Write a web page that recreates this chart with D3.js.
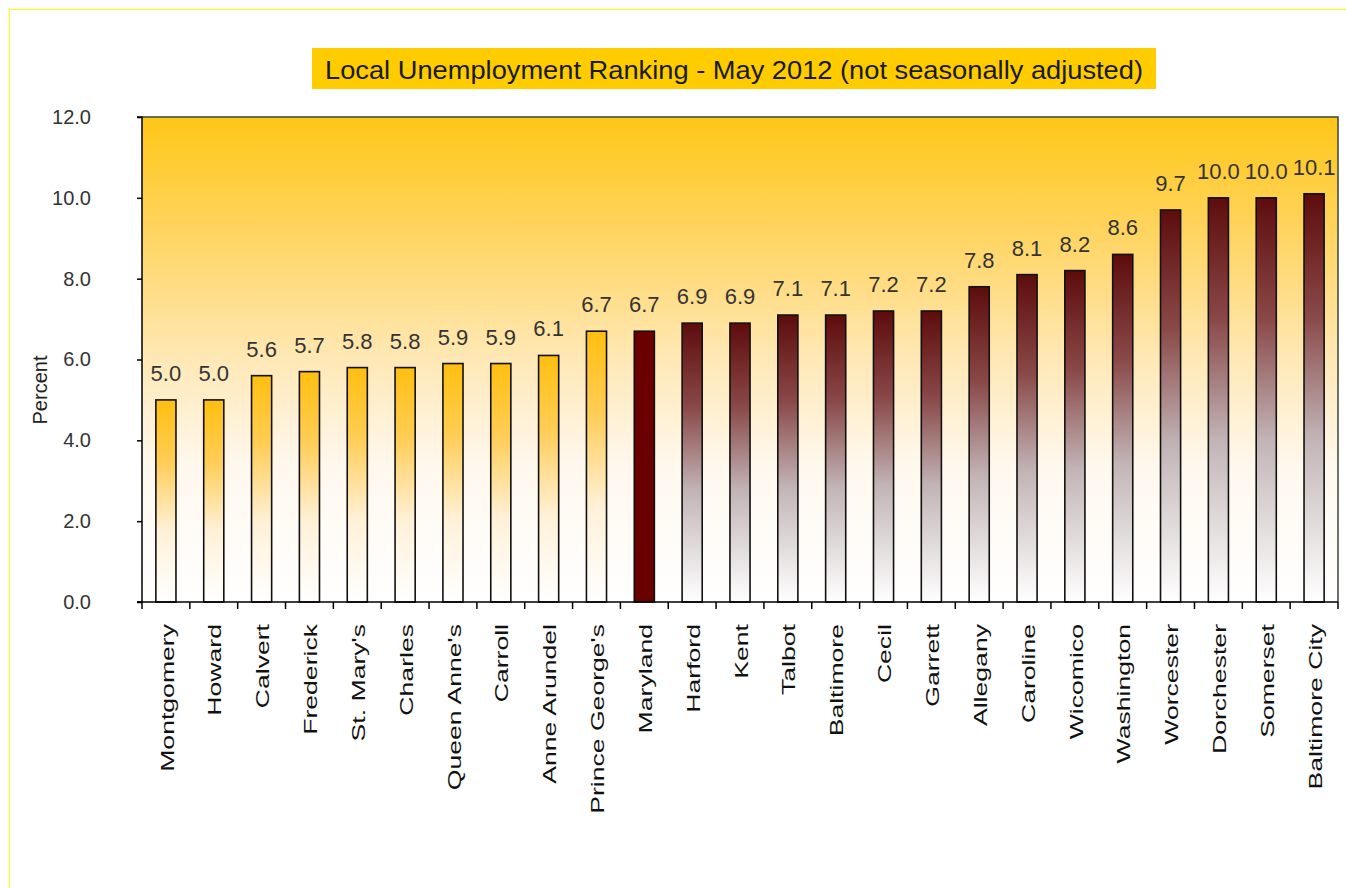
<!DOCTYPE html>
<html><head><meta charset="utf-8">
<script src="https://cdn.jsdelivr.net/npm/d3@7"></script>
<style>body{margin:0;background:#fff;}svg{display:block;font-family:"Liberation Sans",Arial,sans-serif;}</style>
</head><body>
<svg id="chart" width="1346" height="888"></svg>
<script>
const categories = ["Montgomery","Howard","Calvert","Frederick","St. Mary's","Charles","Queen Anne's","Carroll","Anne Arundel","Prince George's","Maryland","Harford","Kent","Talbot","Baltimore","Cecil","Garrett","Allegany","Caroline","Wicomico","Washington","Worcester","Dorchester","Somerset","Baltimore City"];
const values = [5.0,5.0,5.6,5.7,5.8,5.8,5.9,5.9,6.1,6.7,6.7,6.9,6.9,7.1,7.1,7.2,7.2,7.8,8.1,8.2,8.6,9.7,10.0,10.0,10.1];
const yTicks = [0,2,4,6,8,10,12];
const title = "Local Unemployment Ranking - May 2012 (not seasonally adjusted)";
const yLabel = "Percent";
const stateName = "Maryland";

const svg = d3.select("#chart");
const m = {left:142, right:1338, top:117, bottom:602};

const defs = svg.append("defs");
function grad(id, stops){
  const g = defs.append("linearGradient").attr("id",id).attr("x1",0).attr("y1",0).attr("x2",0).attr("y2",1);
  stops.forEach(s=>g.append("stop").attr("offset",s[0]).attr("stop-color",s[1]));
}
grad("bg",[[0,"#FFC617"],[0.25,"#FFD564"],[0.5,"#FFE8B6"],[0.72,"#FFF8EE"],[1,"#FFFFFF"]]);
grad("gold",[[0,"#FFBF10"],[0.3,"#FFCD55"],[0.65,"#FFF1D8"],[1,"#FFFFFF"]]);
grad("maroon",[[0,"#5E0C0C"],[0.3,"#8A4848"],[0.6,"#C2B4B6"],[1,"#FFFFFF"]]);

// outer frame
svg.append("rect").attr("x",9.5).attr("y",9.5).attr("width",1346).attr("height",888)
  .attr("fill","none").attr("stroke","#FFFF00").attr("stroke-width",1);

const x = d3.scaleBand().domain(categories).range([m.left,m.right]).paddingInner(0.58).paddingOuter(0.29);
const y = d3.scaleLinear().domain([0,12]).range([m.bottom,m.top]);

// plot background
svg.append("rect").attr("x",m.left).attr("y",m.top).attr("width",m.right-m.left).attr("height",m.bottom-m.top)
  .attr("fill","url(#bg)");
svg.append("path").attr("d",`M${m.left},${m.top}H${m.right}V${m.bottom}`).attr("fill","none")
  .attr("stroke","#3A473A").attr("stroke-width",1.5);

// title
svg.append("rect").attr("x",312).attr("y",48).attr("width",844).attr("height",41).attr("fill","#FFCC00");
svg.append("text").attr("transform","translate(734,79) scale(1,1.15)").attr("text-anchor","middle")
  .attr("font-size",22).attr("fill","#1a1a1a")
  .attr("textLength",818).attr("lengthAdjust","spacingAndGlyphs").text(title);

// bars
const idxState = categories.indexOf(stateName);
svg.append("g").selectAll("rect").data(values).join("rect")
  .attr("x",(d,i)=>x(categories[i]))
  .attr("y",d=>y(d))
  .attr("width",x.bandwidth())
  .attr("height",d=>y(0)-y(d))
  .attr("fill",(d,i)=> i<idxState ? "url(#gold)" : (i===idxState ? "#6A0000" : "url(#maroon)"))
  .attr("stroke","#111").attr("stroke-width",1.6);

// value labels
svg.append("g").selectAll("text").data(values).join("text")
  .attr("x",(d,i)=>x(categories[i])+x.bandwidth()/2)
  .attr("y",d=>y(d)-19)
  .attr("text-anchor","middle").attr("font-size",22).attr("fill","#333")
  .text(d=>d.toFixed(1));

// y axis
const yAxis = d3.axisLeft(y).tickValues(yTicks).tickFormat(d=>d.toFixed(1)).tickSize(5).tickPadding(46);
const gy = svg.append("g").attr("transform",`translate(${m.left},0)`).call(yAxis);
gy.select(".domain").attr("stroke","#000").attr("stroke-width",1.5).attr("d",`M-5,${m.top}H0V${m.bottom}H-5`);
gy.selectAll(".tick line").attr("stroke","#000").attr("stroke-width",1.5);
gy.selectAll(".tick text").attr("font-size",20).attr("fill","#333").attr("font-family","Liberation Sans, Arial, sans-serif");

svg.append("text").attr("transform",`translate(47,390) rotate(-90)`).attr("text-anchor","middle")
  .attr("font-size",20).attr("fill","#222").text(yLabel);

// x axis
const gx = svg.append("g");
gx.append("line").attr("x1",m.left-5).attr("x2",m.right).attr("y1",m.bottom).attr("y2",m.bottom)
  .attr("stroke","#000").attr("stroke-width",1.5);
const step = x.step();
gx.selectAll("line.t").data(d3.range(categories.length+1)).join("line").attr("class","t")
  .attr("x1",i=>m.left+i*step).attr("x2",i=>m.left+i*step)
  .attr("y1",m.bottom).attr("y2",m.bottom+7).attr("stroke","#000").attr("stroke-width",1.5);
gx.selectAll("text").data(categories).join("text")
  .attr("transform",d=>`translate(${x(d)+x.bandwidth()/2+1},${m.bottom+22}) rotate(-90) scale(1.4,1)`)
  .attr("dy","0.35em").attr("text-anchor","end").attr("font-size",19).attr("fill","#111")
  .text(d=>d);
</script>
</body></html>
